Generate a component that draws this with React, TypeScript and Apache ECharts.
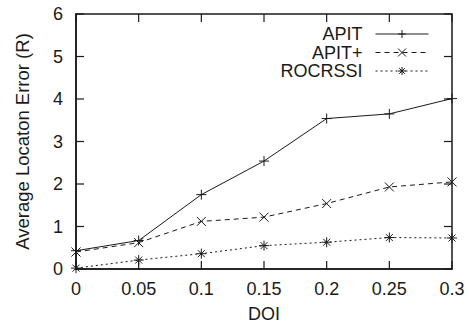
import React, { useEffect, useRef } from "react";
import * as echarts from "echarts";

const doi = [0, 0.05, 0.1, 0.15, 0.2, 0.25, 0.3];
const apit = [0.43, 0.67, 1.75, 2.54, 3.54, 3.65, 4.01];
const apitPlus = [0.4, 0.62, 1.12, 1.22, 1.54, 1.93, 2.05];
const rocrssi = [0.02, 0.21, 0.36, 0.55, 0.63, 0.74, 0.73];
const yTicks = [0, 1, 2, 3, 4, 5, 6];
const seriesNames = ["APIT", "APIT+", "ROCRSSI"];

const PLUS = "path://M0,5L10,5M5,0L5,10";
const CROSS = "path://M0,0L10,10M0,10L10,0";
const STAR = "path://M0,5L10,5M5,0L5,10M1.5,1.5L8.5,8.5M1.5,8.5L8.5,1.5";

const FONT = "Liberation Sans, Arial, sans-serif";
const INK = "#1a1a1a";
const FS = 18;
const TICK = 8;

export default function App() {
  const ref = useRef<HTMLDivElement>(null);
  useEffect(() => {
    if (!ref.current) return;
    const chart = echarts.init(ref.current, undefined, { renderer: "svg" });
    const mk = (name: string, vals: number[], symbol: string, type: any, size: number) => ({
      name,
      type: "line",
      data: doi.map((x, i) => [x, vals[i]]),
      symbol,
      symbolSize: size,
      showSymbol: true,
      lineStyle: { color: INK, width: 1, type },
      itemStyle: { color: "none", borderColor: INK, borderWidth: 1 },
      emphasis: { disabled: true },
    });
    chart.setOption({
      animation: false,
      backgroundColor: "#fff",
      textStyle: { fontFamily: FONT, color: INK },
      grid: { left: 76, right: 17, top: 14, bottom: 56 },
      legend: {
        orient: "vertical",
        align: "right",
        right: 35,
        top: 20,
        itemWidth: 53,
        itemHeight: 10,
        itemGap: 0.5,
        data: seriesNames,
        formatter: "{a|{name}}",
        itemStyle: { color: "none", borderColor: INK, borderWidth: 1 },
        lineStyle: { width: 1 },
        textStyle: {
          fontFamily: FONT,
          fontSize: FS,
          color: INK,
          lineHeight: 18,
          rich: { a: { fontFamily: FONT, fontSize: FS, color: INK, lineHeight: 18, padding: [0, 8, 0, 0] } },
        },
      },
      xAxis: {
        type: "value",
        min: 0,
        max: 0.3,
        interval: 0.05,
        name: "DOI",
        nameLocation: "middle",
        nameGap: 36,
        nameTextStyle: { fontFamily: FONT, fontSize: FS, color: INK },
        axisLine: { show: true, onZero: false, lineStyle: { color: INK, width: 1.5 } },
        axisTick: { show: false },
        axisLabel: { fontFamily: FONT, fontSize: FS, color: INK, margin: 11 },
        splitLine: { show: false },
      },
      yAxis: {
        type: "value",
        min: 0,
        max: 6,
        interval: 1,
        name: "Average Locaton Error (R)",
        nameLocation: "middle",
        nameGap: 44,
        nameTextStyle: { fontFamily: FONT, fontSize: 18.5, color: INK },
        axisLine: { show: true, onZero: false, lineStyle: { color: INK, width: 1.5 } },
        axisTick: { show: false },
        axisLabel: { fontFamily: FONT, fontSize: FS, color: INK, margin: 13 },
        splitLine: { show: false },
      },
      series: [
        mk(seriesNames[0], apit, PLUS, "solid", 10),
        mk(seriesNames[1], apitPlus, CROSS, [5, 4], 9),
        mk(seriesNames[2], rocrssi, STAR, [2, 3], 10),
      ],
    });

    // Frame and mirrored inward ticks, positioned through the chart's own scales.
    const toPx = (v: number[]) => chart.convertToPixel({ seriesIndex: 0 }, v) as number[];
    const [left, bottom] = toPx([doi[0], yTicks[0]]);
    const [right, top] = toPx([doi[doi.length - 1], yTicks[yTicks.length - 1]]);
    const stroke = { stroke: INK, lineWidth: 1.2 };
    const elements: any[] = [
      {
        type: "rect",
        shape: { x: left, y: top, width: right - left, height: bottom - top },
        style: { fill: "none", stroke: INK, lineWidth: 1.5 },
        z: 100,
        silent: true,
      },
    ];
    doi.forEach((v) => {
      const [px] = toPx([v, yTicks[0]]);
      elements.push({ type: "line", shape: { x1: px, y1: bottom, x2: px, y2: bottom - TICK }, style: stroke, z: 100, silent: true });
      elements.push({ type: "line", shape: { x1: px, y1: top, x2: px, y2: top + TICK }, style: stroke, z: 100, silent: true });
    });
    yTicks.forEach((v) => {
      const [, py] = toPx([doi[0], v]);
      elements.push({ type: "line", shape: { x1: left, y1: py, x2: left + TICK, y2: py }, style: stroke, z: 100, silent: true });
      elements.push({ type: "line", shape: { x1: right, y1: py, x2: right - TICK, y2: py }, style: stroke, z: 100, silent: true });
    });
    chart.setOption({ graphic: { elements } });

    return () => chart.dispose();
  }, []);
  return <div ref={ref} style={{ width: 469, height: 328, position: "fixed", left: 0, top: 0 }} />;
}
